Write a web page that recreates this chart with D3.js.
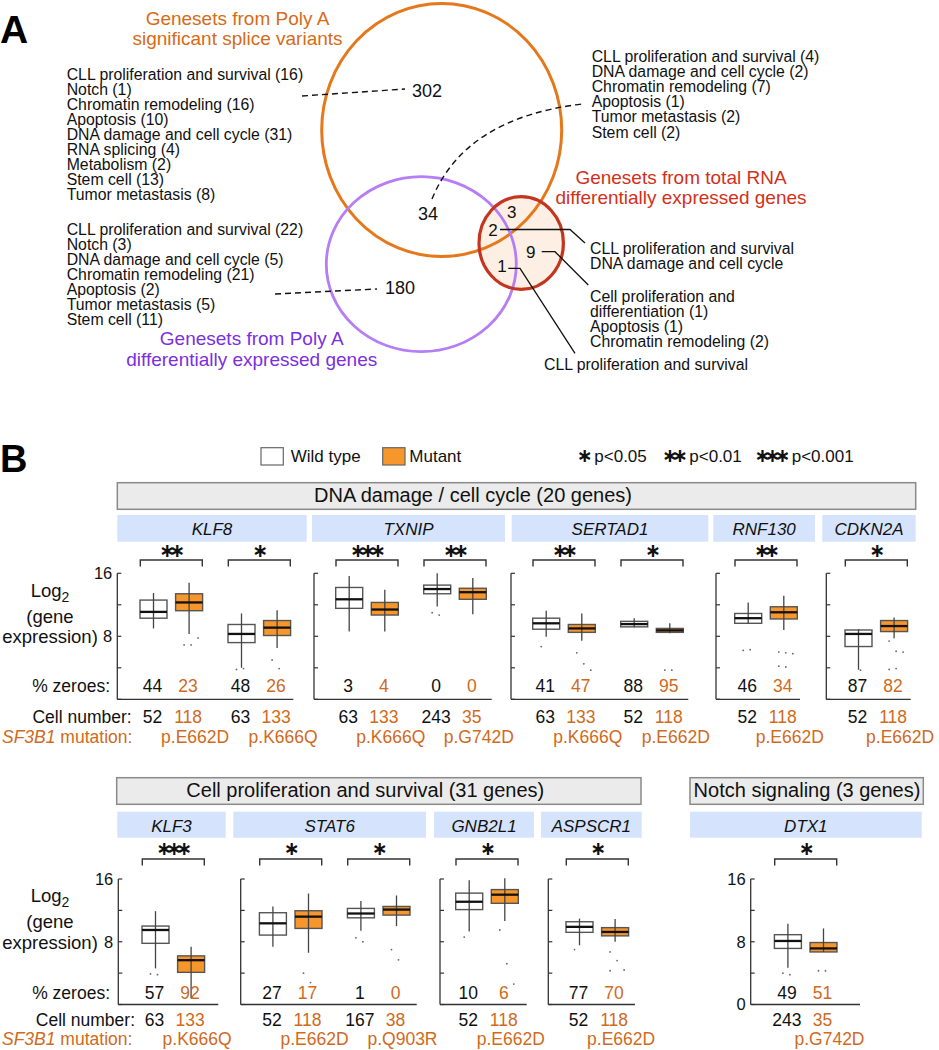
<!DOCTYPE html>
<html><head><meta charset="utf-8">
<script src="https://cdn.jsdelivr.net/npm/d3@7"></script>
<style>body{margin:0;background:#fff}</style>
</head><body><svg id="c" width="939" height="1050"></svg>
<script>
// ================= DATA =================
// Panel A – Venn diagram
const vennTitles = [
  ["Genesets from Poly A", "significant splice variants"],
  ["Genesets from Poly A", "differentially expressed genes"],
  ["Genesets from total RNA", "differentially expressed genes"]
];
const vennCounts = ["302", "34", "180", "3", "2", "9", "1"];
const listSpliceOnly = ["CLL proliferation and survival (16)", "Notch (1)", "Chromatin remodeling (16)", "Apoptosis (10)", "DNA damage and cell cycle (31)", "RNA splicing (4)", "Metabolism (2)", "Stem cell (13)", "Tumor metastasis (8)"];
const listPolyAOnly = ["CLL proliferation and survival (22)", "Notch (3)", "DNA damage and cell cycle (5)", "Chromatin remodeling (21)", "Apoptosis (2)", "Tumor metastasis (5)", "Stem cell (11)"];
const listSpliceAndPolyA = ["CLL proliferation and survival (4)", "DNA damage and cell cycle (2)", "Chromatin remodeling (7)", "Apoptosis (1)", "Tumor metastasis (2)", "Stem cell (2)"];
const listAllThree = ["CLL proliferation and survival", "DNA damage and cell cycle"];
const listTotalOnly = ["Cell proliferation and", "differentiation (1)", "Apoptosis (1)", "Chromatin remodeling (2)"];
const listPolyAAndTotal = ["CLL proliferation and survival"];

// Panel B – box plots
const groupNames = ["DNA damage / cell cycle (20 genes)", "Cell proliferation and survival (31 genes)", "Notch signaling (3 genes)"];
const compGene = ["KLF8", "KLF8", "TXNIP", "TXNIP", "SERTAD1", "SERTAD1", "RNF130", "CDKN2A", "KLF3", "STAT6", "STAT6", "GNB2L1", "ASPSCR1", "DTX1"];
const compMutation = ["p.E662D", "p.K666Q", "p.K666Q", "p.G742D", "p.K666Q", "p.E662D", "p.E662D", "p.E662D", "p.K666Q", "p.E662D", "p.Q903R", "p.E662D", "p.E662D", "p.G742D"];
const compStars = [2, 1, 3, 2, 2, 1, 2, 1, 3, 1, 1, 1, 1, 1];
const wtCells = [52, 63, 63, 243, 63, 52, 52, 52, 63, 52, 167, 52, 52, 243];
const mutCells = [118, 133, 133, 35, 133, 118, 118, 118, 133, 118, 38, 118, 118, 35];
const wtZeroes = [44, 48, 3, 0, 41, 88, 46, 87, 57, 27, 1, 10, 77, 49];
const mutZeroes = [23, 26, 4, 0, 47, 95, 34, 82, 92, 17, 0, 6, 70, 51];
// [lower whisker, q1, median, q3, upper whisker] on log2 scale
const wtBox = [
  [9.0, 10.3, 11.1, 12.6, 13.5], [4.0, 7.2, 8.3, 9.5, 10.9],
  [8.6, 11.55, 12.7, 14.2, 15.65], [11.8, 13.4, 14.0, 14.5, 16.0],
  [7.95, 8.9, 9.65, 10.3, 11.25], [9.15, 9.2, 9.55, 9.9, 10.3],
  [9.6, 9.65, 10.3, 10.9, 12.3], [3.75, 6.7, 8.3, 8.8, 8.9],
  [4.6, 7.8, 9.5, 10.0, 11.9], [7.35, 8.85, 10.35, 11.7, 12.5],
  [9.4, 11.05, 11.6, 12.25, 13.2], [9.3, 12.1, 13.1, 14.2, 15.85],
  [7.55, 9.2, 9.9, 10.55, 10.95], [4.7, 7.15, 8.1, 8.9, 10.3]
];
const mutBox = [
  [8.3, 11.25, 12.3, 13.4, 14.8], [6.5, 8.1, 9.1, 10.0, 11.3],
  [8.6, 10.7, 11.4, 12.3, 13.9], [10.8, 12.7, 13.6, 14.1, 15.4],
  [7.45, 8.5, 9.0, 9.5, 10.9], [8.4, 8.5, 8.75, 9.0, 9.65],
  [8.8, 10.2, 11.05, 11.75, 13.15], [7.75, 8.6, 9.3, 10.0, 10.4],
  [0.8, 4.1, 5.65, 6.2, 7.35], [6.6, 9.7, 11.2, 11.95, 14.15],
  [10.0, 11.4, 12.1, 12.5, 13.9], [10.65, 12.9, 14.0, 14.65, 16.1],
  [8.0, 8.75, 9.25, 9.8, 10.9], [6.7, 6.7, 7.15, 7.9, 9.7]
];
// isolated low points
const wtOutliers = [[], [3.8, 3.9], [], [11.0, 10.7], [6.7], [], [6.2, 6.3], [6.9, 3.7], [3.9, 3.8], [], [8.5, 8.0], [8.6], [7.0], [4.0, 3.8]];
const mutOutliers = [[6.9, 6.9, 7.8], [5.0, 3.9], [], [], [5.9, 4.5, 3.7], [3.7, 3.7], [6.0, 5.9, 5.8, 4.2, 4.1], [7.4, 6.1, 6.0, 3.8, 3.9], [], [4.0, 2.8], [7.0, 5.7], [9.5, 5.2, 2.6], [6.7, 5.6, 4.4, 4.3], [4.3, 4.3]];
const yTicks = [0, 4, 8, 12, 16];
const sigLabels = ["p<0.05", "p<0.01", "p<0.001"];

// ================= LAYOUT =================
const FONT = "'Liberation Sans', Arial, Helvetica, sans-serif";
const ORANGE_TXT = "#d06a1c";
const svg = d3.select("#c");

function txt(g, x, y, s, o = {}) {
  return g.append("text").attr("x", x).attr("y", y).text(s)
    .attr("font-family", o.family || FONT)
    .attr("font-size", o.size || 16)
    .attr("fill", o.fill || "#111")
    .attr("text-anchor", o.anchor || "start")
    .attr("font-style", o.italic ? "italic" : null)
    .attr("font-weight", o.bold ? "bold" : null);
}

// ---------- Panel A ----------
const A = svg.append("g");
txt(A, 0, 43, "A", {size: 39, bold: true, fill: "#000"});

const ellSplice = {cx: 441.7, cy: 130, rx: 120, ry: 126.5};
const ellPolyA = {cx: 421.3, cy: 264.2, rx: 95, ry: 87.5};
const ellTotal = {cx: 521.2, cy: 243, rx: 42.2, ry: 46.3};

A.append("ellipse").attr("cx", ellTotal.cx).attr("cy", ellTotal.cy).attr("rx", ellTotal.rx).attr("ry", ellTotal.ry).attr("fill", "#fdefe3");
A.append("ellipse").attr("cx", ellSplice.cx).attr("cy", ellSplice.cy).attr("rx", ellSplice.rx).attr("ry", ellSplice.ry).attr("fill", "none").attr("stroke", "#e5781a").attr("stroke-width", 3);
A.append("ellipse").attr("cx", ellPolyA.cx).attr("cy", ellPolyA.cy).attr("rx", ellPolyA.rx).attr("ry", ellPolyA.ry).attr("fill", "none").attr("stroke", "#b57ef5").attr("stroke-width", 2.8);
A.append("ellipse").attr("cx", ellTotal.cx).attr("cy", ellTotal.cy).attr("rx", ellTotal.rx).attr("ry", ellTotal.ry).attr("fill", "none").attr("stroke", "#c3351e").attr("stroke-width", 3.2);

// titles
const titleCol = ["#d66b18", "#7b2fe0", "#d3301a"];
const titlePos = [[237.5, 24.7], [251.7, 345.4], [681, 183.7]];
vennTitles.forEach((t, i) => {
  t.forEach((line, j) => txt(A, titlePos[i][0], titlePos[i][1] + j * 20.6, line, {size: 19, fill: titleCol[i], anchor: "middle"}));
});

// lists
function list(arr, x, y0, dy) { arr.forEach((s, i) => txt(A, x, y0 + i * dy, s, {size: 15.8, fill: "#111"})); }
list(listSpliceOnly, 66.7, 79.6, 15.05);
list(listPolyAOnly, 66.7, 234.6, 15.07);
list(listSpliceAndPolyA, 591.7, 62, 15.1);
list(listAllThree, 590, 253.8, 15.1);
list(listTotalOnly, 590, 302, 15.05);
list(listPolyAAndTotal, 544, 369.6, 15);

// counts
const countPos = [[427, 97, 18], [428, 219.5, 18], [400, 293.5, 18], [511.7, 218, 17], [493, 235.5, 17], [530.7, 258, 17], [502, 271.5, 17]];
vennCounts.forEach((c, i) => txt(A, countPos[i][0], countPos[i][1], c, {size: countPos[i][2], anchor: "middle"}));

// leader lines
const dashed = ["M302,96 L405,89", "M275,294 L377,289", "M432,199 Q465,118 582,104"];
dashed.forEach(d => A.append("path").attr("d", d).attr("fill", "none").attr("stroke", "#111").attr("stroke-width", 1.4).attr("stroke-dasharray", "6,4"));
const solid = ["M500,229.5 H570 L585,243", "M541.7,251.7 H555 L588.3,285", "M508.3,268.3 H520 L575,353.3"];
solid.forEach(d => A.append("path").attr("d", d).attr("fill", "none").attr("stroke", "#111").attr("stroke-width", 1.3));

// ---------- Panel B ----------
const B = svg.append("g");
txt(B, 0, 471.7, "B", {size: 38, bold: true, fill: "#000"});

// significance stars: one text per group, tightened with letter-spacing
const STAR_FS = 19, STAR_ADV = 0.838 * 19, STAR_STEP = 10;
function stars(g, cx, cy, n) {
  const ls = STAR_STEP - STAR_ADV;
  g.append("text").attr("x", cx - (STAR_ADV / 2 - STAR_STEP / 2)).attr("y", cy + 5).text("\u2217".repeat(n))
    .attr("font-family", "'DejaVu Sans', sans-serif").attr("font-size", STAR_FS).attr("font-weight", "bold")
    .attr("letter-spacing", ls).attr("text-anchor", "middle").attr("fill", "#111");
}

// legend
B.append("rect").attr("x", 261).attr("y", 447.7).attr("width", 22.3).attr("height", 17.3).attr("fill", "#fff").attr("stroke", "#666").attr("stroke-width", 1.2);
txt(B, 290.7, 461.7, "Wild type", {size: 17});
B.append("rect").attr("x", 382.7).attr("y", 447.7).attr("width", 22.3).attr("height", 17.3).attr("fill", "#f7962b").attr("stroke", "#666").attr("stroke-width", 1.2);
txt(B, 409.3, 461.7, "Mutant", {size: 17});
const sigLegendPos = [[584.7, 594.3], [675, 689.3], [772.5, 791.7]];
sigLabels.forEach((s, i) => { stars(B, sigLegendPos[i][0], 456.5, i + 1); txt(B, sigLegendPos[i][1], 461.7, s, {size: 17}); });

const rows = [
  {groupBoxes: [[117.3, 915.7, 0, 473]], gy0: 482.7, gy1: 509.3, gBase: 502.3, hy0: 515, hy1: 541.7, hBase: 535,
   starCY: 551.7, brY: 560, y16: 573.3, y0: 699.3, zBase: 692, cBase: 722.5, mBase: 742.5,
   zLabelX: 110, cLabelX: 131.7, logBase: 596.7,
   panels: [
     {gene: "KLF8", hx0: 117.3, hx1: 306.7, ax: 117.3, len: 176, pad: 10, comps: [0, 1], labels: [16, 8]},
     {gene: "TXNIP", hx0: 312, hx1: 505, ax: 314, len: 177.7, pad: 9, comps: [2, 3]},
     {gene: "SERTAD1", hx0: 511.7, hx1: 708.3, ax: 511, len: 177.3, pad: 9, comps: [4, 5]},
     {gene: "RNF130", hx0: 713.3, hx1: 815, ax: 716, len: 84, pad: 6, comps: [6]},
     {gene: "CDKN2A", hx0: 822.3, hx1: 915.7, ax: 826.3, len: 84.4, pad: 6, comps: [7]}
   ]},
  {groupBoxes: [[116.7, 641, 1, 365.3], [690, 923.3, 2, 807]], gy0: 777.7, gy1: 804.3, gBase: 796.7, hy0: 811.7, hy1: 837.7, hBase: 831.7,
   starCY: 850, brY: 859, y16: 879, y0: 1004.5, zBase: 999, cBase: 1026, mBase: 1045,
   zLabelX: 110, cLabelX: 135, logBase: 902,
   panels: [
     {gene: "KLF3", hx0: 117.3, hx1: 225.7, ax: 118.3, len: 100, pad: 11, comps: [8], labels: [16, 8]},
     {gene: "STAT6", hx0: 233.3, hx1: 426, ax: 240.7, len: 176, pad: 6, comps: [9, 10]},
     {gene: "GNB2L1", hx0: 434, hx1: 534, ax: 440, len: 86.7, pad: 3, comps: [11]},
     {gene: "ASPSCR1", hx0: 541, hx1: 641.7, ax: 548.3, len: 86.7, pad: 5, comps: [12]},
     {gene: "DTX1", hx0: 690, hx1: 921.7, ax: 750.7, len: 109.3, pad: 11, comps: [13], labels: [16, 8, 0]}
   ]}
];

const BAND = 88, BOXW = 27;
const sub = d3.scalePoint().domain(["wt", "mut"]).range([-17.8, 17.8]);

rows.forEach(row => {
  const y = d3.scaleLinear().domain([0, 16]).range([row.y0, row.y16]);
  // group headers
  row.groupBoxes.forEach(gb => {
    B.append("rect").attr("x", gb[0]).attr("y", row.gy0).attr("width", gb[1] - gb[0]).attr("height", row.gy1 - row.gy0)
      .attr("fill", "#ebebeb").attr("stroke", "#8a8a8a").attr("stroke-width", 1.5);
    txt(B, gb[3], row.gBase, groupNames[gb[2]], {size: 20, anchor: "middle"});
  });
  // row labels
  const lab = B.append("text").attr("x", 50).attr("y", row.logBase).attr("text-anchor", "middle")
    .attr("font-family", FONT).attr("font-size", 18.5).attr("fill", "#111");
  lab.append("tspan").text("Log");
  lab.append("tspan").text("2").attr("font-size", 14).attr("dy", 5);
  txt(B, 50, row.logBase + 26, "(gene", {size: 18.5, anchor: "middle"});
  txt(B, 50, row.logBase + 46.6, "expression)", {size: 18.5, anchor: "middle"});
  txt(B, row.zLabelX, row.zBase, "% zeroes:", {size: 17.5, anchor: "end"});
  txt(B, row.cLabelX, row.cBase, "Cell number:", {size: 17.5, anchor: "end"});
  const ml = B.append("text").attr("x", 2).attr("y", row.mBase).attr("font-family", FONT).attr("font-size", 17.5).attr("fill", ORANGE_TXT);
  ml.append("tspan").text("SF3B1").attr("font-style", "italic");
  ml.append("tspan").text(" mutation:");

  row.panels.forEach(p => {
    // gene header
    B.append("rect").attr("x", p.hx0).attr("y", row.hy0).attr("width", p.hx1 - p.hx0).attr("height", row.hy1 - row.hy0).attr("fill", "#d5e3fc");
    txt(B, (p.hx0 + p.hx1) / 2, row.hBase, p.gene, {size: 17, italic: true, anchor: "middle"});
    // axes
    const g = B.append("g");
    g.append("line").attr("x1", p.ax).attr("x2", p.ax).attr("y1", y(16)).attr("y2", y(0)).attr("stroke", "#333").attr("stroke-width", 1.3);
    g.append("line").attr("x1", p.ax).attr("x2", p.ax + p.len).attr("y1", y(0)).attr("y2", y(0)).attr("stroke", "#333").attr("stroke-width", 1.3);
    yTicks.forEach(t => g.append("line").attr("x1", p.ax).attr("x2", p.ax + 4).attr("y1", y(t)).attr("y2", y(t)).attr("stroke", "#333").attr("stroke-width", 1.2));
    (p.labels || []).forEach(t => txt(g, p.ax - 5, y(t) + 5.8, String(t), {size: 16.5, anchor: "end"}));

    const x = d3.scaleBand().domain(p.comps).range([p.ax + p.pad, p.ax + p.pad + BAND * p.comps.length]);
    p.comps.forEach(ci => {
      const c = x(ci) + x.bandwidth() / 2;
      // bracket + stars
      g.append("path").attr("d", `M${c - 31},${row.brY + 6.5} V${row.brY} H${c + 31} V${row.brY + 6.5}`)
        .attr("fill", "none").attr("stroke", "#333").attr("stroke-width", 1.4);
      stars(g, c + 1, row.starCY, compStars[ci]);
      [["wt", wtBox[ci], wtOutliers[ci], "#fff", wtZeroes[ci], wtCells[ci], "#111"],
       ["mut", mutBox[ci], mutOutliers[ci], "#f7962b", mutZeroes[ci], mutCells[ci], ORANGE_TXT]].forEach(d => {
        const bx = c + sub(d[0]);
        const s = d[1];
        // outlier points
        d[2].forEach((v, k) => g.append("circle").attr("cx", bx + ((k % 3) - 1) * 7 + 2).attr("cy", y(v)).attr("r", 0.9).attr("fill", "#666"));
        g.append("rect").attr("x", bx - BOXW / 2).attr("y", y(s[3])).attr("width", BOXW).attr("height", Math.max(1, y(s[1]) - y(s[3])))
          .attr("fill", d[3]).attr("stroke", "#555").attr("stroke-width", 1.4);
        g.append("line").attr("x1", bx).attr("x2", bx).attr("y1", y(s[4])).attr("y2", y(s[0])).attr("stroke", "#444").attr("stroke-width", 1.3);
        g.append("line").attr("x1", bx - BOXW / 2).attr("x2", bx + BOXW / 2).attr("y1", y(s[2])).attr("y2", y(s[2])).attr("stroke", "#111").attr("stroke-width", 2.3);
        txt(g, bx - 1, row.zBase, String(d[4]), {size: 17.5, anchor: "middle", fill: d[6]});
        txt(g, bx - 1, row.cBase, String(d[5]), {size: 17.5, anchor: "middle", fill: d[6]});
      });
      txt(g, c + sub("mut") + 6, row.mBase, compMutation[ci], {size: 17.5, anchor: "middle", fill: ORANGE_TXT});
    });
  });
});
</script>
</body></html>
